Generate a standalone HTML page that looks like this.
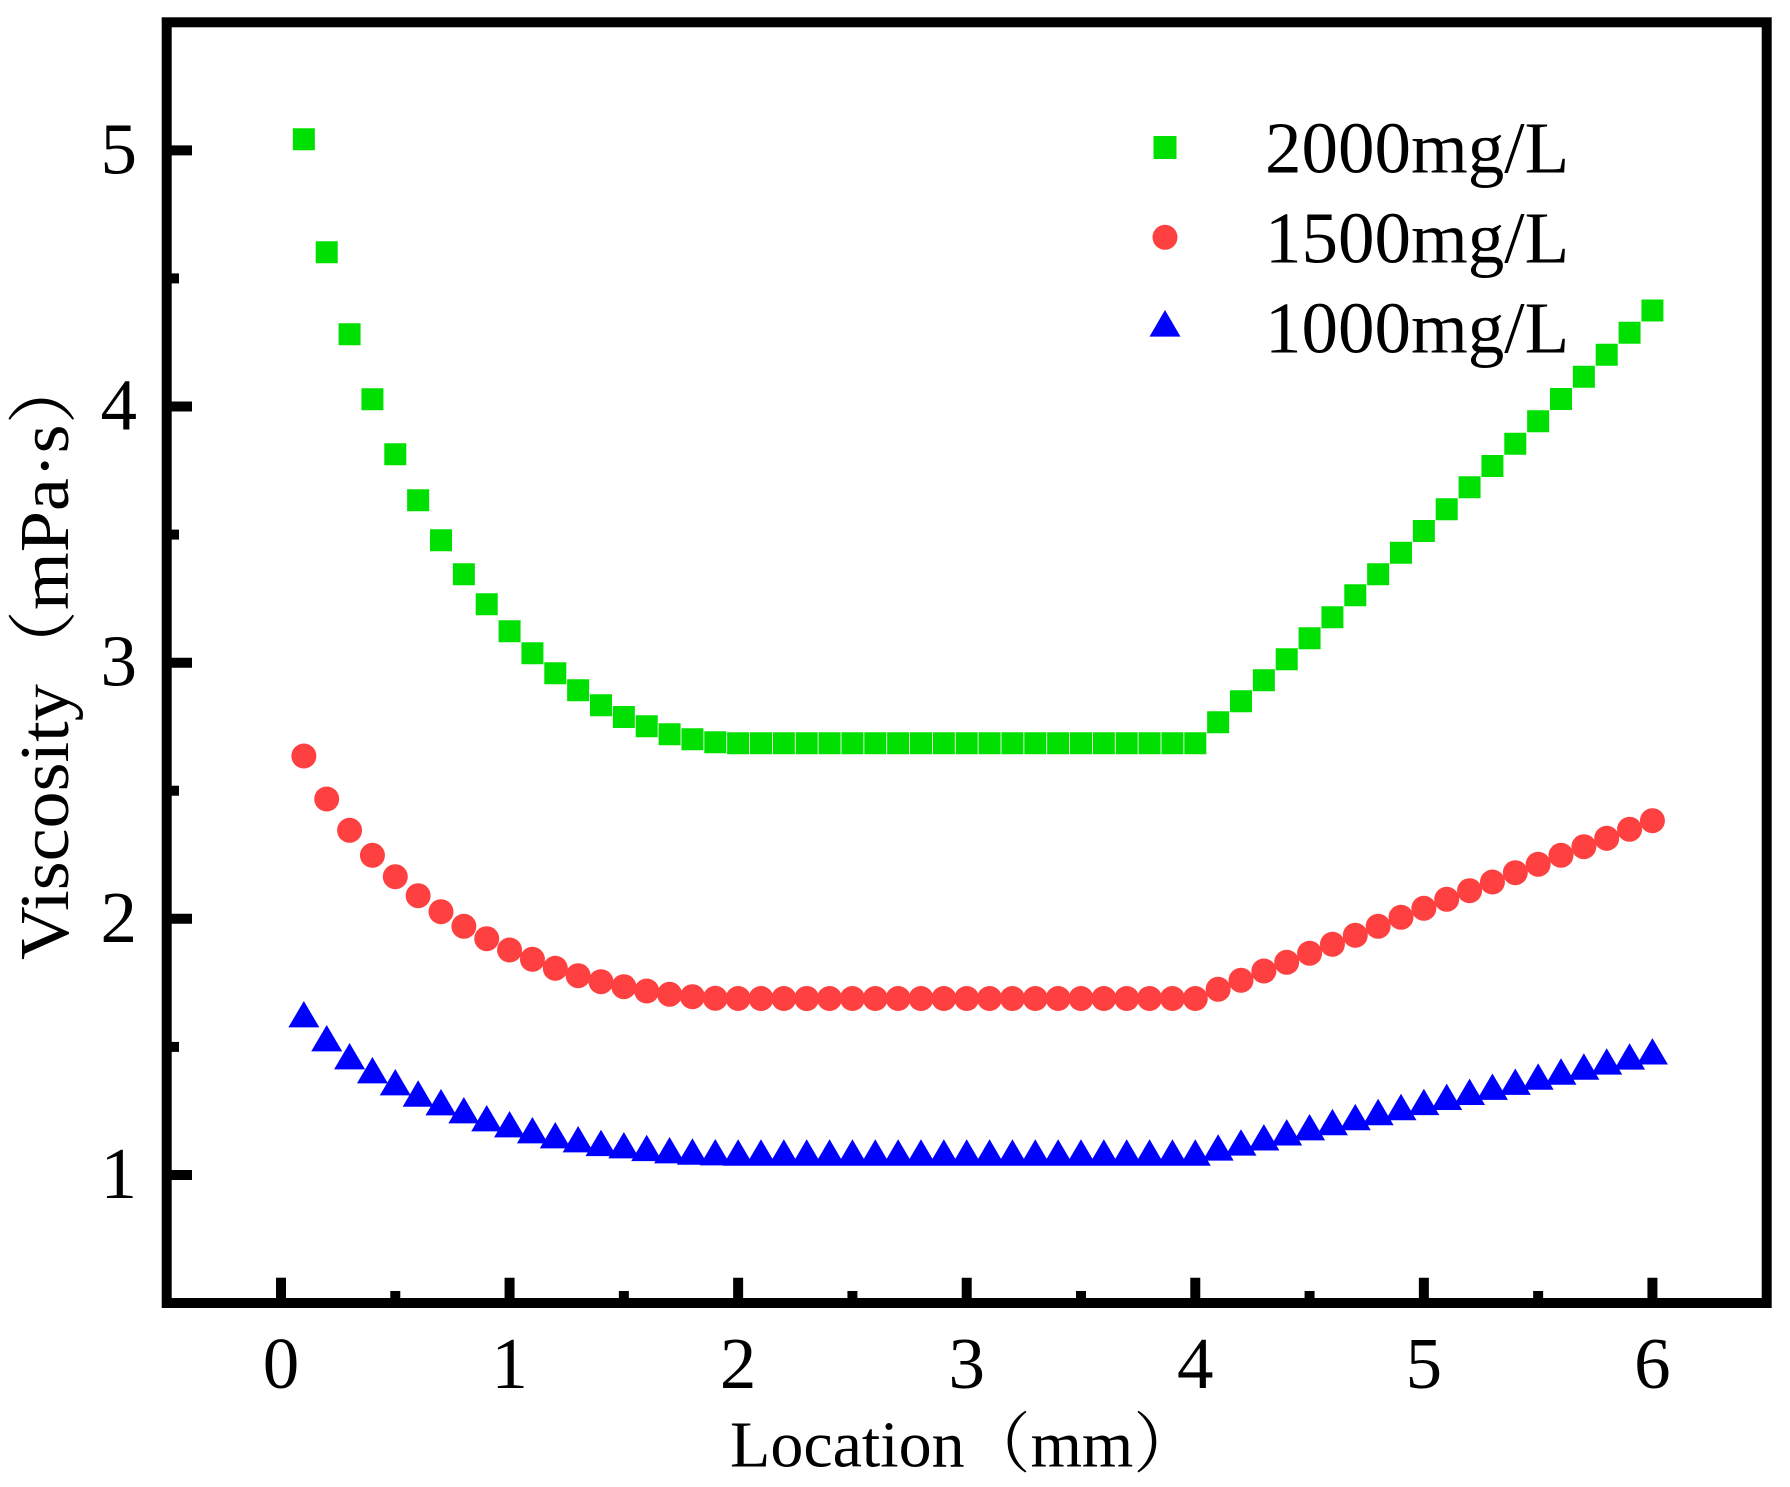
<!DOCTYPE html>
<html>
<head>
<meta charset="utf-8">
<style>
html,body{margin:0;padding:0;background:#fff;}
svg{display:block;}
text{font-family:"Liberation Serif","Noto Serif CJK SC","Noto Sans CJK SC",serif;fill:#000;}
</style>
</head>
<body>
<svg width="1790" height="1487" viewBox="0 0 1790 1487" xmlns="http://www.w3.org/2000/svg">
<rect x="0" y="0" width="1790" height="1487" fill="#fff"/>
<path fill="#00E000" d="M292.86 128.3h22v22h-22z M315.71 241.3h22v22h-22z M338.57 323.3h22v22h-22z M361.43 388.3h22v22h-22z M384.29 443.3h22v22h-22z M407.14 489.3h22v22h-22z M430 529.3h22v22h-22z M452.86 563.3h22v22h-22z M475.71 593.3h22v22h-22z M498.57 620.3h22v22h-22z M521.43 642.3h22v22h-22z M544.29 662.3h22v22h-22z M567.14 679.3h22v22h-22z M590 694.3h22v22h-22z M612.86 706h22v22h-22z M635.71 715.3h22v22h-22z M658.57 723.3h22v22h-22z M681.43 728.3h22v22h-22z M704.29 731.3h22v22h-22z M727.14 732.3h22v22h-22z M750 732.3h22v22h-22z M772.86 732.3h22v22h-22z M795.71 732.3h22v22h-22z M818.57 732.3h22v22h-22z M841.43 732.3h22v22h-22z M864.29 732.3h22v22h-22z M887.14 732.3h22v22h-22z M910 732.3h22v22h-22z M932.86 732.3h22v22h-22z M955.71 732.3h22v22h-22z M978.57 732.3h22v22h-22z M1001.43 732.3h22v22h-22z M1024.29 732.3h22v22h-22z M1047.14 732.3h22v22h-22z M1070 732.3h22v22h-22z M1092.86 732.3h22v22h-22z M1115.71 732.3h22v22h-22z M1138.57 732.3h22v22h-22z M1161.43 732.3h22v22h-22z M1184.29 732.3h22v22h-22z M1207.14 711.3h22v22h-22z M1230 690.3h22v22h-22z M1252.86 669.3h22v22h-22z M1275.71 648.3h22v22h-22z M1298.57 627.3h22v22h-22z M1321.43 606.3h22v22h-22z M1344.29 584.3h22v22h-22z M1367.14 563.3h22v22h-22z M1390 541.7h22v22h-22z M1412.86 520h22v22h-22z M1435.71 498.3h22v22h-22z M1458.57 476.3h22v22h-22z M1481.43 455h22v22h-22z M1504.29 432.7h22v22h-22z M1527.14 410.3h22v22h-22z M1550 388h22v22h-22z M1572.86 365.7h22v22h-22z M1595.71 343.7h22v22h-22z M1618.57 321.7h22v22h-22z M1641.43 299.5h22v22h-22z"/>
<path fill="#FF4040" d="M291.36 756a12.5 12.5 0 1 0 25 0a12.5 12.5 0 1 0 -25 0z M314.21 799a12.5 12.5 0 1 0 25 0a12.5 12.5 0 1 0 -25 0z M337.07 830.3a12.5 12.5 0 1 0 25 0a12.5 12.5 0 1 0 -25 0z M359.93 855.3a12.5 12.5 0 1 0 25 0a12.5 12.5 0 1 0 -25 0z M382.79 876.7a12.5 12.5 0 1 0 25 0a12.5 12.5 0 1 0 -25 0z M405.64 895.7a12.5 12.5 0 1 0 25 0a12.5 12.5 0 1 0 -25 0z M428.5 911.7a12.5 12.5 0 1 0 25 0a12.5 12.5 0 1 0 -25 0z M451.36 926.3a12.5 12.5 0 1 0 25 0a12.5 12.5 0 1 0 -25 0z M474.21 938.7a12.5 12.5 0 1 0 25 0a12.5 12.5 0 1 0 -25 0z M497.07 950a12.5 12.5 0 1 0 25 0a12.5 12.5 0 1 0 -25 0z M519.93 959.3a12.5 12.5 0 1 0 25 0a12.5 12.5 0 1 0 -25 0z M542.79 968.3a12.5 12.5 0 1 0 25 0a12.5 12.5 0 1 0 -25 0z M565.64 975.7a12.5 12.5 0 1 0 25 0a12.5 12.5 0 1 0 -25 0z M588.5 981.7a12.5 12.5 0 1 0 25 0a12.5 12.5 0 1 0 -25 0z M611.36 986.7a12.5 12.5 0 1 0 25 0a12.5 12.5 0 1 0 -25 0z M634.21 991a12.5 12.5 0 1 0 25 0a12.5 12.5 0 1 0 -25 0z M657.07 994.3a12.5 12.5 0 1 0 25 0a12.5 12.5 0 1 0 -25 0z M679.93 996.7a12.5 12.5 0 1 0 25 0a12.5 12.5 0 1 0 -25 0z M702.79 998.3a12.5 12.5 0 1 0 25 0a12.5 12.5 0 1 0 -25 0z M725.64 998.5a12.5 12.5 0 1 0 25 0a12.5 12.5 0 1 0 -25 0z M748.5 998.5a12.5 12.5 0 1 0 25 0a12.5 12.5 0 1 0 -25 0z M771.36 998.5a12.5 12.5 0 1 0 25 0a12.5 12.5 0 1 0 -25 0z M794.21 998.5a12.5 12.5 0 1 0 25 0a12.5 12.5 0 1 0 -25 0z M817.07 998.5a12.5 12.5 0 1 0 25 0a12.5 12.5 0 1 0 -25 0z M839.93 998.5a12.5 12.5 0 1 0 25 0a12.5 12.5 0 1 0 -25 0z M862.79 998.5a12.5 12.5 0 1 0 25 0a12.5 12.5 0 1 0 -25 0z M885.64 998.5a12.5 12.5 0 1 0 25 0a12.5 12.5 0 1 0 -25 0z M908.5 998.5a12.5 12.5 0 1 0 25 0a12.5 12.5 0 1 0 -25 0z M931.36 998.5a12.5 12.5 0 1 0 25 0a12.5 12.5 0 1 0 -25 0z M954.21 998.5a12.5 12.5 0 1 0 25 0a12.5 12.5 0 1 0 -25 0z M977.07 998.5a12.5 12.5 0 1 0 25 0a12.5 12.5 0 1 0 -25 0z M999.93 998.5a12.5 12.5 0 1 0 25 0a12.5 12.5 0 1 0 -25 0z M1022.79 998.5a12.5 12.5 0 1 0 25 0a12.5 12.5 0 1 0 -25 0z M1045.64 998.5a12.5 12.5 0 1 0 25 0a12.5 12.5 0 1 0 -25 0z M1068.5 998.5a12.5 12.5 0 1 0 25 0a12.5 12.5 0 1 0 -25 0z M1091.36 998.5a12.5 12.5 0 1 0 25 0a12.5 12.5 0 1 0 -25 0z M1114.21 998.5a12.5 12.5 0 1 0 25 0a12.5 12.5 0 1 0 -25 0z M1137.07 998.5a12.5 12.5 0 1 0 25 0a12.5 12.5 0 1 0 -25 0z M1159.93 998.5a12.5 12.5 0 1 0 25 0a12.5 12.5 0 1 0 -25 0z M1182.79 998.5a12.5 12.5 0 1 0 25 0a12.5 12.5 0 1 0 -25 0z M1205.64 989.3a12.5 12.5 0 1 0 25 0a12.5 12.5 0 1 0 -25 0z M1228.5 980.3a12.5 12.5 0 1 0 25 0a12.5 12.5 0 1 0 -25 0z M1251.36 971a12.5 12.5 0 1 0 25 0a12.5 12.5 0 1 0 -25 0z M1274.21 962.3a12.5 12.5 0 1 0 25 0a12.5 12.5 0 1 0 -25 0z M1297.07 953.3a12.5 12.5 0 1 0 25 0a12.5 12.5 0 1 0 -25 0z M1319.93 944.3a12.5 12.5 0 1 0 25 0a12.5 12.5 0 1 0 -25 0z M1342.79 935.3a12.5 12.5 0 1 0 25 0a12.5 12.5 0 1 0 -25 0z M1365.64 926.3a12.5 12.5 0 1 0 25 0a12.5 12.5 0 1 0 -25 0z M1388.5 917.3a12.5 12.5 0 1 0 25 0a12.5 12.5 0 1 0 -25 0z M1411.36 908.3a12.5 12.5 0 1 0 25 0a12.5 12.5 0 1 0 -25 0z M1434.21 899.3a12.5 12.5 0 1 0 25 0a12.5 12.5 0 1 0 -25 0z M1457.07 890.7a12.5 12.5 0 1 0 25 0a12.5 12.5 0 1 0 -25 0z M1479.93 882a12.5 12.5 0 1 0 25 0a12.5 12.5 0 1 0 -25 0z M1502.79 872.7a12.5 12.5 0 1 0 25 0a12.5 12.5 0 1 0 -25 0z M1525.64 864.3a12.5 12.5 0 1 0 25 0a12.5 12.5 0 1 0 -25 0z M1548.5 855.3a12.5 12.5 0 1 0 25 0a12.5 12.5 0 1 0 -25 0z M1571.36 846.7a12.5 12.5 0 1 0 25 0a12.5 12.5 0 1 0 -25 0z M1594.21 838.3a12.5 12.5 0 1 0 25 0a12.5 12.5 0 1 0 -25 0z M1617.07 829.3a12.5 12.5 0 1 0 25 0a12.5 12.5 0 1 0 -25 0z M1639.93 820.7a12.5 12.5 0 1 0 25 0a12.5 12.5 0 1 0 -25 0z"/>
<path fill="#0000FF" d="M303.86 1001l15.5 26.4h-31z M326.71 1025l15.5 26.4h-31z M349.57 1043l15.5 26.4h-31z M372.43 1057l15.5 26.4h-31z M395.29 1069l15.5 26.4h-31z M418.14 1080.3l15.5 26.4h-31z M441 1089l15.5 26.4h-31z M463.86 1097l15.5 26.4h-31z M486.71 1105l15.5 26.4h-31z M509.57 1111l15.5 26.4h-31z M532.43 1117l15.5 26.4h-31z M555.29 1122l15.5 26.4h-31z M578.14 1126l15.5 26.4h-31z M601 1129.7l15.5 26.4h-31z M623.86 1132l15.5 26.4h-31z M646.71 1134.7l15.5 26.4h-31z M669.57 1137l15.5 26.4h-31z M692.43 1138.3l15.5 26.4h-31z M715.29 1139l15.5 26.4h-31z M738.14 1139.3l15.5 26.4h-31z M761 1139.3l15.5 26.4h-31z M783.86 1139.3l15.5 26.4h-31z M806.71 1139.3l15.5 26.4h-31z M829.57 1139.3l15.5 26.4h-31z M852.43 1139.3l15.5 26.4h-31z M875.29 1139.3l15.5 26.4h-31z M898.14 1139.3l15.5 26.4h-31z M921 1139.3l15.5 26.4h-31z M943.86 1139.3l15.5 26.4h-31z M966.71 1139.3l15.5 26.4h-31z M989.57 1139.3l15.5 26.4h-31z M1012.43 1139.3l15.5 26.4h-31z M1035.29 1139.3l15.5 26.4h-31z M1058.14 1139.3l15.5 26.4h-31z M1081 1139.3l15.5 26.4h-31z M1103.86 1139.3l15.5 26.4h-31z M1126.71 1139.3l15.5 26.4h-31z M1149.57 1139.3l15.5 26.4h-31z M1172.43 1139.3l15.5 26.4h-31z M1195.29 1139.3l15.5 26.4h-31z M1218.14 1134.2l15.5 26.4h-31z M1241 1129.2l15.5 26.4h-31z M1263.86 1124.1l15.5 26.4h-31z M1286.71 1119.1l15.5 26.4h-31z M1309.57 1114l15.5 26.4h-31z M1332.43 1108.9l15.5 26.4h-31z M1355.29 1103.9l15.5 26.4h-31z M1378.14 1098.8l15.5 26.4h-31z M1401 1093.8l15.5 26.4h-31z M1423.86 1088.7l15.5 26.4h-31z M1446.71 1083.6l15.5 26.4h-31z M1469.57 1078.6l15.5 26.4h-31z M1492.43 1073.5l15.5 26.4h-31z M1515.29 1068.5l15.5 26.4h-31z M1538.14 1063.4l15.5 26.4h-31z M1561 1058.3l15.5 26.4h-31z M1583.86 1053.3l15.5 26.4h-31z M1606.71 1048.2l15.5 26.4h-31z M1629.57 1043.2l15.5 26.4h-31z M1652.43 1038.1l15.5 26.4h-31z"/>
<rect x="166.7" y="22.3" width="1600" height="1280.7" fill="none" stroke="#000" stroke-width="10" stroke-linejoin="miter"/>
<g stroke="#000" stroke-width="10">
<line x1="166.7" y1="150.4" x2="192" y2="150.4"/>
<line x1="166.7" y1="406.5" x2="192" y2="406.5"/>
<line x1="166.7" y1="662.7" x2="192" y2="662.7"/>
<line x1="166.7" y1="918.8" x2="192" y2="918.8"/>
<line x1="166.7" y1="1175" x2="192" y2="1175"/>
<line x1="166.7" y1="278.4" x2="179" y2="278.4"/>
<line x1="166.7" y1="534.6" x2="179" y2="534.6"/>
<line x1="166.7" y1="790.7" x2="179" y2="790.7"/>
<line x1="166.7" y1="1046.9" x2="179" y2="1046.9"/>
<line x1="281" y1="1303" x2="281" y2="1277.7"/>
<line x1="509.57" y1="1303" x2="509.57" y2="1277.7"/>
<line x1="738.14" y1="1303" x2="738.14" y2="1277.7"/>
<line x1="966.71" y1="1303" x2="966.71" y2="1277.7"/>
<line x1="1195.29" y1="1303" x2="1195.29" y2="1277.7"/>
<line x1="1423.86" y1="1303" x2="1423.86" y2="1277.7"/>
<line x1="1652.43" y1="1303" x2="1652.43" y2="1277.7"/>
<line x1="395.29" y1="1303" x2="395.29" y2="1291"/>
<line x1="623.86" y1="1303" x2="623.86" y2="1291"/>
<line x1="852.43" y1="1303" x2="852.43" y2="1291"/>
<line x1="1081" y1="1303" x2="1081" y2="1291"/>
<line x1="1309.57" y1="1303" x2="1309.57" y2="1291"/>
<line x1="1538.14" y1="1303" x2="1538.14" y2="1291"/>
</g>
<g font-size="73" text-anchor="end">
<text x="137" y="173.4">5</text>
<text x="137" y="429.5">4</text>
<text x="137" y="685.7">3</text>
<text x="137" y="941.8">2</text>
<text x="137" y="1198">1</text>
</g>
<g font-size="73" text-anchor="middle">
<text x="281" y="1388">0</text>
<text x="509.57" y="1388">1</text>
<text x="738.14" y="1388">2</text>
<text x="966.71" y="1388">3</text>
<text x="1195.29" y="1388">4</text>
<text x="1423.86" y="1388">5</text>
<text x="1652.43" y="1388">6</text>
</g>
<text x="730" y="1466.7" font-size="66">Location（mm）</text>
<text transform="translate(68,960) rotate(-90) scale(1.06,1)" font-size="70">Viscosity（mPa·s）</text>
<rect x="1153.5" y="136" width="23" height="23" fill="#00E000"/>
<circle cx="1165" cy="237.3" r="12.5" fill="#FF4040"/>
<path d="M1165 310l15.5 26.6h-31z" fill="#0000FF"/>
<g font-size="73">
<text x="1265" y="172.3">2000mg/L</text>
<text x="1265" y="262.7">1500mg/L</text>
<text x="1265" y="352.7">1000mg/L</text>
</g>
</svg>
</body>
</html>
